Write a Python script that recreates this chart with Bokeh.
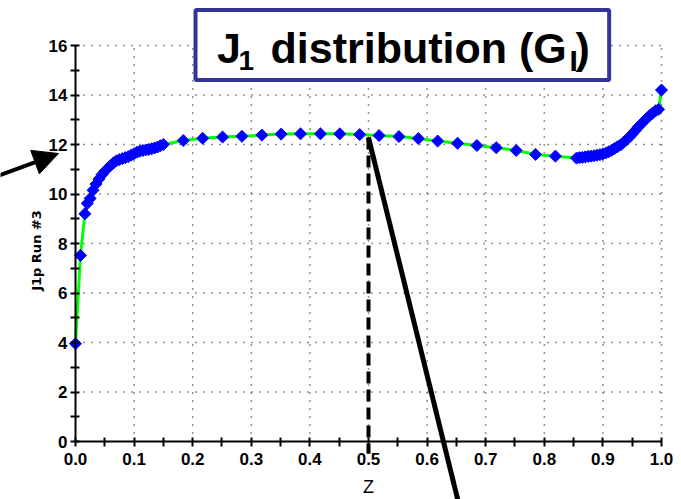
import numpy as np
from bokeh.plotting import figure
from bokeh.models import (Range1d, FixedTicker, BoxAnnotation, Label, Arrow,
                          NormalHead, PrintfTickFormatter)
from bokeh.embed import file_html
from bokeh.resources import INLINE

# ---- data ----
z_values = [0.0, 0.0085, 0.016,
            0.020, 0.025, 0.030, 0.035, 0.040, 0.045, 0.050, 0.055, 0.060,
            0.065, 0.070, 0.075, 0.080, 0.085, 0.090, 0.095, 0.100, 0.105,
            0.110, 0.115, 0.120, 0.125, 0.130, 0.135, 0.140, 0.145, 0.150,
            0.184, 0.217, 0.251, 0.284, 0.318, 0.351, 0.384, 0.418, 0.451,
            0.485, 0.518, 0.552, 0.585, 0.618, 0.652, 0.685, 0.718, 0.752,
            0.785, 0.819,
            0.855, 0.860, 0.865, 0.870, 0.875, 0.880, 0.885, 0.890, 0.895,
            0.900, 0.905, 0.910, 0.915, 0.920, 0.925, 0.930, 0.935, 0.940,
            0.945, 0.950, 0.955, 0.960, 0.965, 0.970, 0.975, 0.980, 0.985,
            0.990, 0.995, 1.0]
j1_values = [3.95, 7.52, 9.20,
             9.62, 9.82, 10.15, 10.40, 10.61, 10.78, 10.92, 11.04, 11.15,
             11.26, 11.34, 11.39, 11.43, 11.47, 11.51, 11.57, 11.63, 11.69,
             11.73, 11.76, 11.78, 11.80, 11.83, 11.86, 11.90, 11.95, 12.00,
             12.16, 12.25, 12.30, 12.33, 12.38, 12.42, 12.43, 12.43, 12.43,
             12.40, 12.36, 12.32, 12.24, 12.14, 12.05, 11.96, 11.87, 11.76,
             11.60, 11.53,
             11.45, 11.47, 11.48, 11.50, 11.52, 11.53, 11.55, 11.57, 11.59,
             11.62, 11.66, 11.71, 11.77, 11.84, 11.91, 11.98, 12.08, 12.18,
             12.30, 12.42, 12.56, 12.70, 12.82, 12.94, 13.06, 13.17, 13.27,
             13.36, 13.42, 14.20]

x_ticks = [0.0, 0.1, 0.2, 0.3, 0.4, 0.5, 0.6, 0.7, 0.8, 0.9, 1.0]
x_minor = [0.05, 0.15, 0.25, 0.35, 0.45, 0.55, 0.65, 0.75, 0.85, 0.95]
y_ticks = [0, 2, 4, 6, 8, 10, 12, 14, 16]
y_minor = [1, 3, 5, 7, 9, 11, 13, 15]

x_label = "Z"
y_label = "J1p Run #3"
marked_z = 0.5

# data extent of the axes
x_lo, x_hi = 0.0, 1.0
y_lo, y_hi = 0.0, 16.0

# ---- figure: the frame covers the whole canvas, axes sit at fixed places ----
p = figure(width=681, height=499,
           x_range=Range1d(-0.127986, 1.034130),
           y_range=Range1d(-2.343434, 17.818182),
           output_backend="svg", toolbar_location=None,
           min_border=0)
p.outline_line_color = None
p.background_fill_color = "white"
p.border_fill_color = "white"
p.grid.visible = False

p.xaxis.ticker = FixedTicker(ticks=x_ticks, minor_ticks=x_minor)
p.yaxis.ticker = FixedTicker(ticks=y_ticks, minor_ticks=y_minor)
p.xaxis.formatter = PrintfTickFormatter(format="%.1f")
p.xaxis.fixed_location = y_lo
p.yaxis.fixed_location = x_lo
p.xaxis.bounds = (x_lo, x_hi)
p.yaxis.bounds = (y_lo, y_hi)

for ax in (p.xaxis, p.yaxis):
    ax.axis_line_width = 2
    ax.axis_line_color = "black"
    ax.major_tick_line_width = 2
    ax.minor_tick_line_width = 2
    ax.major_tick_line_color = "black"
    ax.minor_tick_line_color = "black"
    ax.major_tick_in = 4
    ax.major_tick_out = 5
    ax.minor_tick_in = 4
    ax.minor_tick_out = 5
    ax.major_label_text_font = "Liberation Sans"
    ax.major_label_text_font_style = "bold"
    ax.major_label_text_font_size = "17px"
    ax.major_label_text_color = "black"

p.yaxis.major_label_standoff = 3
p.xaxis.major_label_standoff = 6

# ---- dotted grid at the major ticks ----
gx = x_ticks[1:]
gy = y_ticks[1:]
p.segment(x0=gx, y0=[y_lo] * len(gx), x1=gx, y1=[y_hi] * len(gx),
          line_color="black", line_alpha=0.85, line_width=1.5, line_dash="1 7")
p.segment(x0=[x_lo] * len(gy), y0=gy, x1=[x_hi] * len(gy), y1=gy,
          line_color="black", line_alpha=0.85, line_width=1.5, line_dash="1 7")

# ---- data ----
p.line(z_values, j1_values, line_color="#00ff00", line_width=3)
p.scatter(z_values, j1_values, marker="square", angle=np.pi / 4, size=8.5,
          fill_color="#0000ff", line_color="#0000ff")

# ---- axis titles ----
p.add_layout(Label(x=0.5, y=-1.82, text=x_label, text_font="Liberation Sans",
                   text_font_size="18px", text_color="black",
                   text_align="center", text_baseline="alphabetic"))
p.add_layout(Label(x=-0.0657, y=7.717, text=y_label, text_font="DejaVu Sans",
                   text_font_style="bold", text_font_size="13px",
                   text_color="black", angle=np.pi / 2,
                   text_align="center", text_baseline="middle"))

# ---- pointer lines ----
y_curve = 12.28
p.add_layout(Arrow(end=None, x_start=marked_z, y_start=y_curve,
                   x_end=marked_z, y_end=-0.49,
                   line_color="black", line_width=4, line_dash="12 6"))
p.add_layout(Arrow(end=None, x_start=marked_z, y_start=y_curve,
                   x_end=0.657, y_end=-2.8,
                   line_color="black", line_width=5))
p.add_layout(Arrow(end=NormalHead(size=25, fill_color="black", line_color="black"),
                   x_start=-0.1365, y_start=10.70, x_end=-0.029, y_end=11.636,
                   line_color="black", line_width=4))

# ---- title box ----
p.add_layout(BoxAnnotation(left=0.2048, right=0.9107, top=17.434, bottom=14.606,
                           fill_color="white", fill_alpha=1.0,
                           line_color="#333399", line_width=4, line_alpha=1.0))

def title_part(x, y, text, size):
    p.add_layout(Label(x=x, y=y, text=text, text_font="Liberation Sans",
                       text_font_style="bold", text_font_size=size,
                       text_color="black", text_align="left",
                       text_baseline="alphabetic"))

title_part(0.2415, 15.899, "J", "43px")
title_part(0.2780, 15.410, "1", "28px")
title_part(0.3328, 15.899, "distribution (G", "43px")
title_part(0.8430, 15.378, "I", "30px")
title_part(0.8532, 15.899, ")", "43px")

open("out.html", "w").write(file_html(p, INLINE))
